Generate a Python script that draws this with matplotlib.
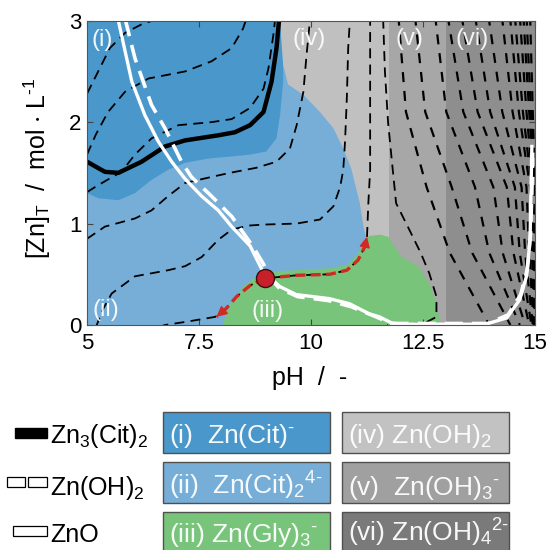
import matplotlib.pyplot as plt
from matplotlib.patches import Rectangle

plt.rcParams['font.family'] = ['Liberation Sans', 'DejaVu Sans']
plt.rcParams['mathtext.fontset'] = 'custom'
plt.rcParams['mathtext.rm'] = 'Liberation Sans'
plt.rcParams['mathtext.it'] = 'Liberation Sans:italic'
plt.rcParams['mathtext.default'] = 'regular'

# predominance regions (pH, [Zn]T)
reg_i_ph = [5.0, 5.0, 5.25, 5.7, 6.07, 6.44, 6.81, 7.2, 7.7, 8.19, 8.64, 9.0, 9.23, 9.31, 9.38, 9.38, 9.31]
reg_i_zn = [3.0, 1.30, 1.25, 1.23, 1.30, 1.43, 1.53, 1.60, 1.64, 1.66, 1.68, 1.71, 1.84, 2.07, 2.40, 2.56, 3.0]
reg_iv_ph = [9.31, 9.38, 9.49, 9.83, 10.2, 10.5, 10.72, 10.9, 11.09, 11.17, 11.24, 11.3, 11.75, 11.75]
reg_iv_zn = [3.0, 2.56, 2.37, 2.27, 2.10, 1.94, 1.74, 1.54, 1.20, 0.97, 0.84, 0.80, 0.80, 3.0]
reg_v_ph = [11.75, 13.02]
reg_vi_ph = [13.02, 15.0]
reg_iii_ph = [8.03, 8.19, 8.49, 8.78, 9.16, 9.68, 10.42, 10.8, 11.02, 11.17, 11.24, 11.32, 11.55, 11.72,
              11.85, 12.02, 12.39, 12.64, 12.8, 12.88, 12.9]
reg_iii_zn = [0.0, 0.21, 0.38, 0.48, 0.53, 0.54, 0.56, 0.59, 0.69, 0.79, 0.86, 0.88, 0.89, 0.87,
              0.78, 0.67, 0.58, 0.41, 0.21, 0.02, 0.0]

# solubility lines
cit_ph = [5.0, 5.4, 5.7, 6.22, 6.74, 7.19, 7.93, 8.3, 8.64, 8.94, 9.12, 9.23, 9.29]
cit_zn = [1.61, 1.51, 1.50, 1.61, 1.76, 1.82, 1.87, 1.90, 1.97, 2.10, 2.40, 2.73, 3.02]
zno_ph = [5.69, 6.0, 6.29, 6.59, 6.89, 7.19, 7.56, 7.93, 8.23, 8.64, 8.9, 9.0, 9.3, 9.67, 10.41, 10.86,
          11.3, 11.53, 11.8, 12.0, 13.9, 14.37, 14.66, 14.81, 14.89, 14.9, 14.93]
zno_zn = [3.02, 2.40, 2.07, 1.81, 1.61, 1.44, 1.27, 1.13, 0.97, 0.78, 0.55, 0.50, 0.38, 0.30, 0.26, 0.21,
          0.11, 0.08, 0.02, 0.008, 0.008, 0.07, 0.25, 0.48, 0.84, 1.1, 1.76]
zoh_ph = [5.85, 6.07, 6.44, 6.74, 7.11, 7.33, 7.78, 8.23, 8.71, 8.94, 9.05, 9.3, 9.7, 10.4, 10.9, 11.4,
          11.8, 13.95, 14.4, 14.68, 14.83, 14.9, 14.93, 14.95]
zoh_zn = [3.02, 2.63, 2.17, 1.94, 1.61, 1.46, 1.27, 1.07, 0.77, 0.60, 0.48, 0.36, 0.28, 0.24, 0.18, 0.09,
          0.015, 0.015, 0.10, 0.30, 0.55, 0.90, 1.30, 1.70]

# dashed iso-lines, left part
iso_ph = [
    [5.0, 5.25, 5.51, 5.85, 6.2, 6.58],
    [5.0, 5.2, 5.47, 5.85, 6.37, 7.19, 7.78, 8.23, 8.48, 8.56],
    [5.0, 5.18, 5.45, 5.77, 6.07, 6.44, 7.04, 7.78, 8.23, 8.64, 8.94, 9.05, 9.16, 9.2],
    [5.0, 5.4, 6.07, 6.44, 6.81, 7.19, 7.78, 8.19, 8.78, 9.23, 9.53, 9.68, 9.83, 9.9, 9.98],
    [5.2, 5.35, 5.55, 6.07, 6.81, 7.19, 7.56, 7.93, 8.23, 8.6, 8.94, 9.68, 10.2, 10.5, 10.65, 10.72,
     10.76, 10.8, 10.83, 10.87],
    [6.6, 6.74, 7.19, 7.86, 8.1, 8.34, 8.64, 8.97, 9.68, 10.42, 10.8, 11.05, 11.2, 11.25, 11.28, 11.32, 11.32],
    [11.61, 11.65, 11.72, 11.8, 11.9, 12.16, 12.45, 12.64, 12.8, 12.8, 12.54, 12.0, 11.7],
]
iso_zn = [
    [2.28, 2.5, 2.73, 2.88, 2.96, 3.02],
    [1.68, 1.88, 2.10, 2.30, 2.43, 2.50, 2.60, 2.73, 2.92, 3.02],
    [1.31, 1.36, 1.43, 1.51, 1.68, 1.84, 1.97, 2.0, 2.03, 2.14, 2.33, 2.53, 2.86, 3.02],
    [0.85, 0.97, 1.05, 1.13, 1.27, 1.40, 1.46, 1.50, 1.55, 1.61, 1.74, 1.97, 2.30, 2.66, 3.02],
    [-0.02, 0.15, 0.31, 0.48, 0.54, 0.58, 0.67, 0.84, 0.94, 0.98, 0.99, 1.0, 1.04, 1.17, 1.36, 1.53,
     1.81, 2.24, 2.73, 3.02],
    [-0.02, 0.0, 0.03, 0.08, 0.16, 0.28, 0.39, 0.46, 0.49, 0.50, 0.54, 0.64, 0.77, 0.87, 1.2, 1.53, 3.02],
    [3.02, 2.5, 2.0, 1.64, 1.2, 0.97, 0.71, 0.51, 0.28, 0.08, 0.02, 0.0, 0.0],
]

# dashed iso-lines, right part: pH where each line crosses these [Zn]T levels
right_zn = [3.05, 2.1, 1.36, 0.71, 0.0]
right_ph = [
    [11.95, 12.12, 12.58, 13.10, 13.98],
    [12.32, 12.55, 13.14, 13.60, 14.45],
    [12.77, 13.02, 13.66, 13.98, 14.66],
    [13.05, 13.40, 14.07, 14.28, 14.78],
    [13.36, 13.72, 14.37, 14.52, 14.87],
    [13.66, 14.00, 14.55, 14.66, 14.92],
    [13.96, 14.27, 14.70, 14.78, 14.95],
    [14.26, 14.50, 14.81, 14.87, 14.97],
    [14.44, 14.64, 14.89, 14.93, 14.985],
    [14.55, 14.73, 14.93, 14.96, 14.99],
    [14.66, 14.81, 14.96, 14.98, 15.0],
    [14.74, 14.87, 14.98, 14.99, 15.0],
    [14.81, 14.91, 14.99, 15.0, 15.0],
    [14.89, 14.95, 15.0, 15.0, 15.0],
]

# process path
pt_ph, pt_zn = 8.97, 0.46
path_l_ph = [8.97, 8.64, 8.34, 8.1, 7.89]
path_l_zn = [0.46, 0.39, 0.28, 0.16, 0.08]
path_r_ph = [8.97, 9.68, 10.42, 10.8, 11.05, 11.2, 11.25]
path_r_zn = [0.46, 0.49, 0.50, 0.54, 0.64, 0.77, 0.87]

labels = ['(i)', '(ii)', '(iii)', '(iv)', '(v)', '(vi)']
label_ph = [5.33, 5.42, 9.04, 9.95, 12.2, 13.6]
label_zn = [2.81, 0.15, 0.14, 2.82, 2.82, 2.82]

c_i, c_ii, c_iii = '#4a98cb', '#77aed7', '#78c47b'
c_iv, c_v, c_vi = '#c0c0c0', '#a7a7a7', '#8e8e8e'
red = '#d12a22'

fig = plt.figure(figsize=(5.5, 5.5), dpi=100)
ax = fig.add_axes([87/550, 1-325/550, 448/550, 304.3/550])
ax.set_xlim(5, 15)
ax.set_ylim(0, 3)
ax.set_facecolor(c_ii)

ax.fill(reg_i_ph, reg_i_zn, color=c_i, lw=0, zorder=1)
ax.fill(reg_iv_ph, reg_iv_zn, color=c_iv, lw=0, zorder=1)
ax.axvspan(reg_v_ph[0], reg_v_ph[1], color=c_v, lw=0, zorder=1)
ax.axvspan(reg_vi_ph[0], reg_vi_ph[1], color=c_vi, lw=0, zorder=1)
ax.fill(reg_iii_ph, reg_iii_zn, color=c_iii, lw=0, zorder=1.5)

for xs, ys in zip(iso_ph, iso_zn):
    ax.plot(xs, ys, color='k', lw=1.3, dashes=(5.5, 3.5), zorder=3)
for xs in right_ph:
    ax.plot(xs, right_zn, color='k', lw=1.6, dashes=(4.5, 4), zorder=3)

ax.plot(cit_ph, cit_zn, color='k', lw=3.2, zorder=4, solid_capstyle='butt')
ax.plot(zno_ph, zno_zn, color='white', lw=2.4, zorder=5)
ax.plot(zoh_ph, zoh_zn, color='white', lw=2.6, dashes=(5, 2.5), zorder=5)

ax.plot(path_l_ph, path_l_zn, color=red, lw=2.4, dashes=(3, 1.6), zorder=6)
ax.plot(path_r_ph, path_r_zn, color=red, lw=2.4, dashes=(3, 1.6), zorder=6)
for xs, ys in [(path_l_ph, path_l_zn), (path_r_ph, path_r_zn)]:
    ax.annotate('', xy=(xs[-1], ys[-1]), xytext=(xs[-2], ys[-2]),
                arrowprops=dict(arrowstyle='-|>', color=red, lw=1, mutation_scale=16,
                                shrinkA=0, shrinkB=0), zorder=7)
ax.plot([pt_ph], [pt_zn], 'o', ms=13, mfc='#c8202a', mec='#3a1010', mew=1, zorder=8)

for t, x, y in zip(labels, label_ph, label_zn):
    ax.text(x, y, t, color='white', fontsize=17, ha='center', va='center', alpha=0.92, zorder=9)

ax.set_xticks([5, 7.5, 10, 12.5, 15])
ax.set_xticklabels(['5', '7.5', '10', '12.5', '15'])
ax.set_yticks([0, 1, 2, 3])
ax.tick_params(direction='in', length=4, width=0.8, color='#444444', labelsize=16,
               top=True, right=True)
ax.tick_params(axis='x', pad=6)
ax.tick_params(axis='y', pad=4)
for s in ax.spines.values():
    s.set_color('#555555')
    s.set_linewidth(0.8)
    s.set_zorder(10)

fig.text(310/550, 1-378/550, 'pH  /  -', ha='center', va='center', fontsize=18)
fig.text(37/550, 1-168/550, r'$[Zn]_T$  /  mol $\cdot$ L$^{\text{-1}}$', ha='center', va='center',
         rotation=90, fontsize=18)

# legend: solubility lines
tr = fig.transFigure
fig.patches.append(Rectangle((15/550, 1-438/550), 32/550, 10/550, transform=tr,
                             facecolor='black', edgecolor='black', lw=1))
for x0 in [6.7, 28.3]:
    fig.patches.append(Rectangle((x0/550, 1-486.7/550), 18.4/550, 10/550, transform=tr,
                                 facecolor='white', edgecolor='black', lw=0.9))
fig.patches.append(Rectangle((13.3/550, 1-536/550), 33.4/550, 10/550, transform=tr,
                             facecolor='white', edgecolor='black', lw=0.9))
sol_labels = [r'Zn$_3$(Cit)$_2$', r'Zn(OH)$_2$', 'ZnO']
row_base = [443, 495, 542]
for t, b in zip(sol_labels, row_base):
    fig.text(50/550, 1-b/550, t, fontsize=18, va='baseline', ha='left')

# legend: species boxes
box_text = [r'(i)  Zn(Cit)$^{\text{-}}$', r'(ii)  Zn(Cit)$_2$$^{\text{4-}}$', r'(iii) Zn(Gly)$_3$$^{\text{-}}$',
            r'(iv) Zn(OH)$_2$', r'(v)  Zn(OH)$_3$$^{\text{-}}$', r'(vi) Zn(OH)$_4$$^{\text{2-}}$']
box_color = [c_i, c_ii, c_iii, '#c2c2c2', '#a0a0a0', '#7a7a7a']
box_top = [411.7, 461.7, 512]
box_left = [163, 341.7]
for k, (t, c) in enumerate(zip(box_text, box_color)):
    col, row = k // 3, k % 3
    x0 = box_left[col]
    y0 = box_top[row]
    fig.patches.append(Rectangle((x0/550, 1-(y0+41)/550), 167/550, 41/550, transform=tr,
                                 facecolor=c, edgecolor='#505050', lw=1))
    fig.text((x0+6)/550, 1-row_base[row]/550, t, fontsize=19, color='white', va='baseline',
             ha='left', alpha=0.95)

fig.savefig('out.png', dpi=100)
